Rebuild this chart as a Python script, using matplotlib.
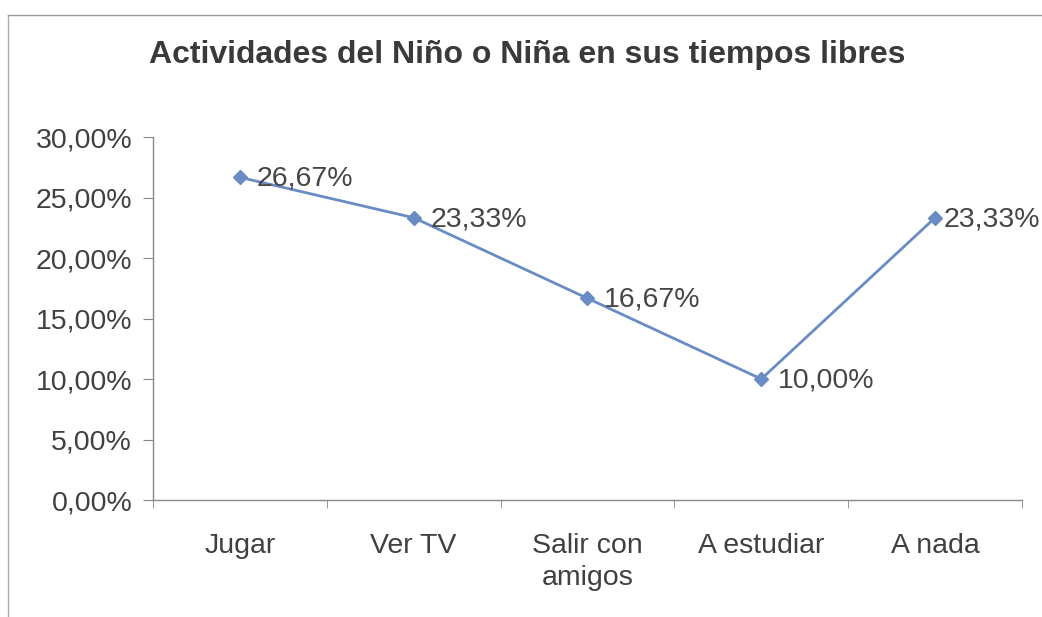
import matplotlib.pyplot as plt
from matplotlib.ticker import FuncFormatter

actividades = ["Jugar", "Ver TV", "Salir con\namigos", "A estudiar", "A nada"]
porcentajes = [26.67, 23.33, 16.67, 10.00, 23.33]
y_ticks = [0, 5, 10, 15, 20, 25, 30]

plt.rcParams['font.family'] = ['Liberation Sans', 'DejaVu Sans']

fig = plt.figure(figsize=(10.42, 6.17), dpi=100)
ax = fig.add_axes([0.1468, 0.1896, 0.834, 0.5883])

x = list(range(len(actividades)))
ax.plot(x, porcentajes, color='#6a8cc4', lw=2, marker='D', ms=7,
        markerfacecolor='#6a8cc4', markeredgecolor='#6a8cc4', zorder=3)

for xi, v in zip(x, porcentajes):
    txt = f"{v:.2f}%".replace('.', ',')
    # la ultima etiqueta queda pegada al marcador
    dx = 6 if xi == len(actividades) - 1 else 12
    ax.annotate(txt, (xi, v), xytext=(dx, -1), textcoords='offset points',
                ha='left', va='center', fontsize=20.5, color='#454545',
                annotation_clip=False)

ax.set_xlim(-0.5, len(actividades) - 0.5)
ax.set_ylim(0, 30)
ax.set_yticks(y_ticks)
ax.yaxis.set_major_formatter(FuncFormatter(lambda v, p: f"{v:.2f}%".replace('.', ',')))

ax.set_xticks(x)
ax.set_xticklabels(actividades, linespacing=1.3)
ax.set_xticks([i - 0.5 for i in range(len(actividades) + 1)], minor=True)
ax.tick_params(axis='x', which='major', length=0, pad=24, labelsize=20.5, labelcolor='#404040')
ax.tick_params(axis='x', which='minor', length=6, color='#888888', direction='out')
ax.tick_params(axis='y', length=7, color='#888888', labelsize=20.5, labelcolor='#404040', pad=8)

for s in ['top', 'right']:
    ax.spines[s].set_visible(False)
for s in ['left', 'bottom']:
    ax.spines[s].set_color('#888888')
    ax.spines[s].set_linewidth(1)

fig.text(0.506, 0.898, "Actividades del Niño o Niña en sus tiempos libres",
         ha='center', va='baseline', fontsize=23, fontweight='bold', color='#3a3a3a')

# marco del gráfico
fig.add_artist(plt.Line2D([0.008, 1.0], [0.975, 0.975], transform=fig.transFigure, color='#999999', lw=1))
fig.add_artist(plt.Line2D([0.008, 0.008], [0.0, 0.975], transform=fig.transFigure, color='#aaaaaa', lw=1))

fig.savefig('out.png', dpi=100)
